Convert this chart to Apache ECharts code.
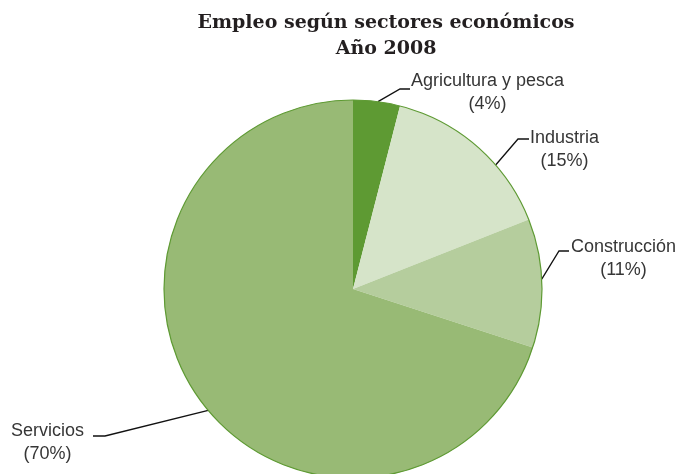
<!DOCTYPE html>
<html><head><meta charset="utf-8">
<script src="https://cdn.jsdelivr.net/npm/echarts@6/dist/echarts.min.js"></script>
<style>html,body{margin:0;padding:0;background:#fff}#chart{width:677px;height:474px}</style>
</head><body><div id="chart"></div>
<script>
const titleLines = ['Empleo según sectores económicos', 'Año 2008'];
const categories = ['Agricultura y pesca', 'Industria', 'Construcción', 'Servicios'];
const values = [4, 15, 11, 70];
const colors = ['#5e9a33', '#d6e4c9', '#b5cd9d', '#98ba75'];

const CENTER = [353, 289];
const RADIUS = 189;
// label placement (style): rim anchor angle (deg clockwise from top), leader geometry, text edge/top
const labelGeo = [
  {angle: 7.6, lineY: 89,  bendX: 400, endX: 410, textX: 411, side: 'left',  textTop: 70},
  {angle: 49,  lineY: 139, bendX: 518, endX: 529, textX: 530, side: 'left',  textTop: 127},
  {angle: 87,  lineY: 251, bendX: 559, endX: 569, textX: 571, side: 'left',  textTop: 236},
  {angle: 230, lineY: 436, bendX: 105, endX: 93,  textX: 84,  side: 'right', textTop: 420}
];

const chart = echarts.init(document.getElementById('chart'), null, {renderer: 'canvas'});
chart.setOption({
  backgroundColor: '#ffffff',
  animation: false,
  title: {
    text: titleLines.join('\n'),
    left: 386, top: 10, padding: 0,
    textAlign: 'center',
    textStyle: {fontFamily: 'DejaVu Serif', fontWeight: 'bold', fontSize: 19, lineHeight: 26, color: '#231f20'}
  },
  series: [
    {
      type: 'pie',
      center: CENTER,
      radius: RADIUS,
      startAngle: 90,
      clockwise: true,
      avoidLabelOverlap: false,
      percentPrecision: 0,
      data: categories.map((c, i) => ({name: c, value: values[i], itemStyle: {color: colors[i]}})),
      itemStyle: {borderWidth: 0},
      emphasis: {disabled: true},
      label: {
        show: true, position: 'outside',
        formatter: '{b}\n({d}%)',
        fontFamily: 'Liberation Sans', fontSize: 18, lineHeight: 23, color: '#363636'
      },
      labelLine: {show: true, length: 15, length2: 10, lineStyle: {color: '#111111', width: 1.3}},
      labelLayout: function (p) {
        const g = labelGeo[p.dataIndex];
        const w = p.labelRect.width;
        const a = g.angle * Math.PI / 180;
        const ax = CENTER[0] + RADIUS * Math.sin(a);
        const ay = CENTER[1] - RADIUS * Math.cos(a);
        const cx = g.side === 'left' ? g.textX + w / 2 : g.textX - w / 2;
        return {
          x: cx, y: g.textTop, align: 'center', verticalAlign: 'top',
          labelLinePoints: [[ax, ay], [g.bendX, g.lineY], [g.endX, g.lineY]]
        };
      }
    },
    {
      type: 'pie',
      center: CENTER,
      radius: RADIUS,
      silent: true,
      z: 3,
      data: [{value: 1, name: ''}],
      itemStyle: {color: 'rgba(0,0,0,0)', borderColor: '#5e9a33', borderWidth: 1.2},
      label: {show: false},
      labelLine: {show: false},
      emphasis: {disabled: true}
    }
  ]
});
</script>
</body></html>
